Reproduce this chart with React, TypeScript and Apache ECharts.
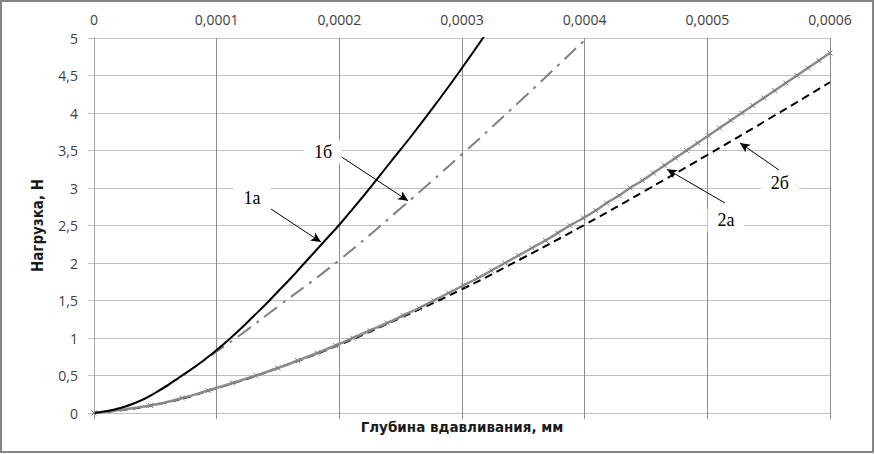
import React, { useEffect, useRef } from "react";
import * as echarts from "echarts";

// ---- data (depth in mm, load in N) ----
const x1a = [0, 0.00001, 0.00002, 0.00003, 0.00004, 0.00005, 0.00006, 0.00007, 0.00008, 0.00009, 0.0001, 0.00011, 0.00012, 0.00013, 0.00014, 0.00015, 0.00016, 0.00017, 0.00018, 0.00019, 0.0002, 0.00022, 0.00024, 0.00026, 0.00028, 0.0003, 0.00032];
const y1a = [0, 0.025, 0.06, 0.11, 0.18, 0.27, 0.37, 0.48, 0.59, 0.71, 0.84, 0.98, 1.13, 1.29, 1.45, 1.62, 1.79, 1.97, 2.15, 2.33, 2.51, 2.9, 3.31, 3.72, 4.15, 4.6, 5.07];

const x1b = [0, 0.00002, 0.00005, 0.00008, 0.0001, 0.00012, 0.00015, 0.0002, 0.00025, 0.0003, 0.00035, 0.0004, 0.00041];
const y1b = [0, 0.06, 0.27, 0.59, 0.82, 1.05, 1.42, 2.04, 2.73, 3.45, 4.2, 4.97, 5.12];

const x2a = [0, 0.000046, 0.000072, 0.000093, 0.000113, 0.000132, 0.00015, 0.000166, 0.000182, 0.000197, 0.000211, 0.000225, 0.000239, 0.000252, 0.000265, 0.000277, 0.000289, 0.000301, 0.000313, 0.000324, 0.000335, 0.000346, 0.000357, 0.000368, 0.000378, 0.000388, 0.000399, 0.000409, 0.000418, 0.000428, 0.000437, 0.000447, 0.000456, 0.000465, 0.000474, 0.000483, 0.000492, 0.000501, 0.00051, 0.000519, 0.000528, 0.000537, 0.000546, 0.000555, 0.000564, 0.000573, 0.000582, 0.000591, 0.0006];
const y2a = [0, 0.1, 0.2, 0.3, 0.4, 0.5, 0.6, 0.7, 0.8, 0.9, 1.0, 1.1, 1.2, 1.3, 1.4, 1.5, 1.6, 1.7, 1.8, 1.9, 2.0, 2.1, 2.2, 2.3, 2.4, 2.5, 2.6, 2.7, 2.8, 2.9, 3.0, 3.1, 3.2, 3.3, 3.4, 3.5, 3.6, 3.7, 3.8, 3.9, 4.0, 4.1, 4.2, 4.3, 4.4, 4.5, 4.6, 4.7, 4.8];

const x2b = [0, 0.00005, 0.0001, 0.00015, 0.0002, 0.00025, 0.0003, 0.00035, 0.0004, 0.00045, 0.0005, 0.00055, 0.0006];
const y2b = [0, 0.11, 0.33, 0.6, 0.91, 1.27, 1.65, 2.07, 2.51, 2.97, 3.44, 3.92, 4.41];

// ---- annotations (data coordinates) ----
const labelTexts = ["1а", "1б", "2а", "2б"];
const labelX = [0.0001288, 0.0001867, 0.0005152, 0.0005592];
const labelY = [2.87, 3.48, 2.57, 3.07];
const arrowFromX = [0.0001443, 0.0002022, 0.0005144, 0.0005584];
const arrowFromY = [2.72, 3.41, 2.8, 3.24];
const arrowToX = [0.000185, 0.000256, 0.0004671, 0.0005266];
const arrowToY = [2.28, 2.83, 3.25, 3.6];

const xMin = 0, xMax = 0.0006, xStep = 0.0001;
const yMin = 0, yMax = 5, yStep = 0.5;

const pairs = (xs: number[], ys: number[]) => xs.map((x, i) => [x, ys[i]]);

export default function App() {
  const ref = useRef<HTMLDivElement>(null);
  useEffect(() => {
    document.body.style.margin = "0";
    const chart = echarts.init(ref.current!, null, { renderer: "svg" });
    const fmtX = (v: number) => (v === 0 ? "0" : v.toFixed(4).replace(".", ","));
    const fmtY = (v: number) => String(v).replace(".", ",");
    const tickFont = { fontFamily: "Open Sans", fontSize: 14, color: "#404040" };
    chart.setOption({
      animation: false,
      grid: { left: 94, right: 45, top: 38, bottom: 41 },
      xAxis: [
        {
          type: "value",
          position: "top",
          min: xMin,
          max: xMax,
          interval: xStep,
          axisLine: { show: true, lineStyle: { color: "#bfbfbf", width: 1 } },
          axisTick: { show: false },
          axisLabel: { ...tickFont, margin: 12, formatter: fmtX },
          splitLine: { show: true, lineStyle: { color: "#8c8c8c", width: 1 } },
        },
        {
          type: "value",
          position: "bottom",
          min: xMin,
          max: xMax,
          interval: xStep,
          axisLine: { show: false },
          axisTick: { show: true, length: 6, lineStyle: { color: "#8c8c8c" } },
          axisLabel: { show: false },
          splitLine: { show: false },
          name: "Глубина вдавливания, мм",
          nameLocation: "middle",
          nameGap: 7,
          nameTextStyle: { fontFamily: "DejaVu Sans", fontWeight: "bold", fontSize: 13.5, color: "#1a1a1a", verticalAlign: "top" },
        },
      ],
      yAxis: {
        type: "value",
        min: yMin,
        max: yMax,
        interval: yStep,
        axisLine: { show: true, lineStyle: { color: "#a6a6a6" } },
        axisTick: { show: true, length: 6, lineStyle: { color: "#bfbfbf" } },
        axisLabel: { ...tickFont, margin: 16, formatter: fmtY },
        splitLine: { show: true, lineStyle: { color: "#bfbfbf", width: 1 } },
        name: "Нагрузка, Н",
        nameLocation: "middle",
        nameGap: 49,
        nameTextStyle: { fontFamily: "Liberation Sans Narrow, DejaVu Sans Condensed, Liberation Sans", fontWeight: "bold", fontSize: 15, color: "#1a1a1a" },
      },
      graphic: [
        {
          type: "rect",
          shape: { x: 1, y: 1, width: 872, height: 451 },
          style: { fill: "none", stroke: "#858585", lineWidth: 2 },
          silent: true,
        },
      ],
      series: [
        {
          name: "2б",
          type: "line",
          data: pairs(x2b, y2b),
          showSymbol: false,
          smooth: true,
          lineStyle: { color: "#000", width: 2, type: [8, 5] },
        },
        {
          name: "2а",
          type: "line",
          data: pairs(x2a, y2a),
          showSymbol: true,
          symbol: "path://M0,0L10,10M0,10L10,0",
          symbolSize: 5,
          itemStyle: { color: "#8c8c8c", borderColor: "#7a7a7a", borderWidth: 1 },
          smooth: true,
          lineStyle: { color: "#8c8c8c", width: 2.5 },
        },
        {
          name: "1б",
          type: "line",
          data: pairs(x1b, y1b),
          showSymbol: false,
          smooth: true,
          lineStyle: { color: "#7f7f7f", width: 2, type: [16, 7, 3, 7] },
        },
        {
          name: "1а",
          type: "line",
          data: pairs(x1a, y1a),
          showSymbol: false,
          smooth: true,
          lineStyle: { color: "#000", width: 2 },
          markLine: {
            silent: true,
            symbol: ["none", "arrow"],
            symbolSize: [7, 10],
            label: { show: false },
            lineStyle: { color: "#000", width: 1, type: "solid" },
            data: arrowFromX.map((x, i) => [
              { coord: [x, arrowFromY[i]] },
              { coord: [arrowToX[i], arrowToY[i]] },
            ]),
          },
          markPoint: {
            silent: true,
            symbol: "rect",
            symbolSize: 1,
            itemStyle: { color: "rgba(0,0,0,0)" },
            label: {
              show: true,
              position: "inside",
              formatter: (p: any) => p.name,
              fontFamily: "Liberation Serif",
              fontSize: 18,
              color: "#000",
              backgroundColor: "#fff",
              padding: [3, 10, 2, 10],
            },
            data: labelTexts.map((t, i) => ({ name: t, coord: [labelX[i], labelY[i]] })),
          },
        },
      ],
    });
    return () => chart.dispose();
  }, []);
  return <div ref={ref} style={{ width: 875, height: 454 }} />;
}
